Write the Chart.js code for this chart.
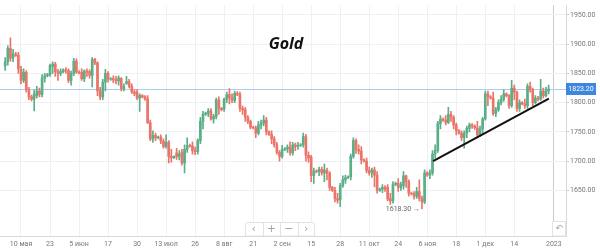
<!DOCTYPE html>
<html><head><meta charset="utf-8">
<script src="https://cdn.jsdelivr.net/npm/chart.js@4"></script>
<style>html,body{margin:0;padding:0;background:#fff;}#wrap{width:600px;height:252px;position:relative;}</style>
</head><body><div id="wrap"><canvas id="c" width="600" height="252"></canvas></div>
<script>
const opens=[1863,1870,1893,1876,1883,1881,1857,1838,1852,1822,
1810,1806,1812,1820,1814,1842,1846,1848,1862,1866,
1853,1850,1853,1856,1855,1838,1850,1871,1852,1852,
1841,1854,1853,1846,1874,1868,1820,1810,1835,1850,
1840,1841,1839,1837,1841,1824,1833,1836,1828,1818,
1818,1808,1812,1810,1807,1766,1738,1744,1740,1741,
1734,1725,1732,1708,1706,1714,1708,1715,1697,1720,
1727,1726,1718,1716,1735,1768,1780,1782,1786,1772,
1776,1805,1790,1789,1806,1814,1808,1804,1816,1814,
1790,1788,1775,1768,1758,1757,1748,1762,1765,1770,
1750,1746,1738,1728,1715,1708,1720,1721,1724,1714,
1728,1725,1727,1728,1742,1710,1707,1675,1683,1682,
1686,1680,1684,1679,1655,1650,1636,1634,1658,1668,
1672,1673,1708,1735,1720,1717,1702,1700,1684,1680,
1685,1676,1650,1652,1655,1655,1636,1632,1660,1662,
1655,1658,1675,1665,1645,1644,1640,1648,1636,1630,
1680,1676,1680,1712,1718,1764,1772,1770,1766,1780,
1775,1762,1752,1748,1740,1748,1756,1762,1760,1757,
1745,1755,1772,1815,1810,1808,1781,1788,1800,1806,
1815,1812,1795,1825,1818,1790,1800,1798,1795,1828,
1822,1800,1808,1806,1820,1812,1820];
const highs=[1877,1897,1911,1891,1886,1886,1862,1858,1855,1826,
1813,1822,1828,1825,1848,1850,1850,1866,1870,1869,
1857,1858,1858,1860,1858,1854,1876,1875,1855,1858,
1856,1858,1856,1877,1876,1870,1826,1840,1857,1853,
1843,1846,1845,1846,1843,1832,1845,1840,1832,1822,
1822,1815,1814,1812,1812,1770,1752,1748,1743,1745,
1738,1745,1735,1720,1709,1722,1718,1720,1728,1740,
1729,1733,1724,1738,1775,1785,1784,1790,1790,1780,
1808,1810,1792,1808,1818,1824,1815,1820,1819,1818,
1794,1792,1778,1770,1760,1760,1768,1770,1778,1775,
1752,1752,1742,1732,1718,1727,1723,1728,1733,1732,
1731,1732,1730,1748,1746,1716,1710,1688,1685,1690,
1690,1695,1688,1682,1657,1655,1645,1662,1675,1676,
1675,1712,1740,1738,1728,1725,1704,1705,1690,1688,
1690,1682,1654,1660,1658,1660,1645,1665,1664,1670,
1664,1682,1676,1668,1647,1648,1655,1668,1640,1685,
1682,1685,1718,1728,1768,1778,1774,1778,1792,1785,
1778,1765,1754,1752,1752,1760,1765,1764,1762,1768,
1760,1775,1820,1820,1812,1818,1792,1805,1812,1822,
1817,1814,1838,1830,1820,1805,1802,1806,1832,1835,
1825,1812,1811,1840,1825,1826,1830];
const lows=[1855,1864,1871,1870,1879,1850,1832,1834,1818,1805,
1803,1786,1808,1810,1810,1835,1844,1845,1850,1845,
1838,1846,1851,1850,1834,1830,1846,1850,1849,1838,
1836,1845,1842,1827,1865,1812,1805,1805,1820,1835,
1838,1834,1832,1830,1820,1820,1831,1825,1816,1812,
1805,1785,1808,1804,1764,1735,1732,1735,1738,1730,
1722,1722,1697,1698,1704,1703,1702,1693,1680,1715,
1724,1712,1711,1712,1730,1755,1778,1776,1770,1765,
1772,1780,1786,1785,1800,1798,1800,1800,1812,1785,
1780,1768,1764,1755,1755,1740,1745,1755,1760,1745,
1744,1730,1724,1712,1700,1705,1718,1715,1710,1710,
1718,1720,1725,1724,1700,1698,1665,1662,1680,1675,
1676,1665,1668,1650,1648,1630,1628,1622,1655,1662,
1670,1668,1705,1713,1712,1695,1698,1680,1676,1672,
1656,1645,1648,1646,1648,1632,1626,1628,1658,1648,
1650,1652,1655,1640,1642,1635,1636,1632,1618.3,1627,
1674,1670,1676,1705,1715,1755,1768,1762,1764,1768,
1755,1745,1746,1735,1722,1740,1750,1756,1754,1742,
1742,1748,1770,1795,1806,1778,1776,1785,1796,1802,
1810,1790,1792,1805,1785,1785,1796,1790,1790,1818,
1795,1798,1803,1804,1808,1810,1815];
const closes=[1870,1893,1876,1883,1881,1858,1838,1852,1822,1810,
1806,1815,1820,1814,1842,1846,1848,1864,1866,1853,
1850,1853,1856,1855,1838,1850,1871,1852,1851,1841,
1854,1852,1847,1874,1868,1820,1810,1835,1850,1840,
1841,1839,1837,1842,1824,1828,1836,1828,1818,1815,
1808,1812,1810,1807,1766,1738,1744,1740,1741,1734,
1725,1732,1708,1706,1708,1708,1712,1697,1720,1727,
1726,1718,1716,1735,1768,1780,1782,1786,1772,1776,
1805,1790,1788,1806,1814,1808,1804,1816,1814,1790,
1788,1775,1768,1758,1757,1748,1762,1765,1770,1750,
1746,1738,1728,1715,1708,1720,1721,1724,1714,1728,
1725,1727,1728,1742,1710,1705,1675,1683,1682,1686,
1680,1685,1679,1655,1650,1636,1633,1658,1668,1672,
1673,1708,1735,1720,1717,1702,1700,1684,1680,1685,
1676,1650,1652,1655,1652,1635,1632,1660,1662,1655,
1660,1675,1665,1645,1644,1640,1648,1636,1630,1680,
1676,1680,1712,1718,1764,1772,1770,1766,1780,1775,
1762,1752,1748,1740,1748,1756,1762,1760,1757,1745,
1755,1772,1815,1810,1808,1781,1788,1800,1806,1815,
1812,1795,1825,1818,1790,1800,1798,1795,1828,1822,
1800,1808,1806,1820,1812,1820,1823.2];
const xTickIndex=[6,17,28,39,50,61,72,83,94,105,116,127,138,149,160,171,182,193,208];
const xTickLabels=['10 мая','23','5 июн','17','30','13 июл','26','8 авг','21','2 сен','15','28','11 окт','24','6 ноя','18','1 дек','14','2023'];
const yTicks=[1650,1700,1750,1800,1850,1900,1950];
const trendLine=[{x:162.2,y:1700},{x:206.1,y:1807}];
const chartTitle='Gold';

const UP='#5aae88', DOWN='#eb7468';
const idx=closes.map((_,i)=>i);
const colors=idx.map(i=>closes[i]>=opens[i]?UP:DOWN);
const lastClose=closes[closes.length-1];
let minI=0; lows.forEach((v,i)=>{if(v<lows[minI])minI=i;});

const overlay={id:'overlay',
 beforeDatasetsDraw(chart){
  const {ctx,chartArea:a,scales:{y}}=chart;
  const py=Math.round(y.getPixelForValue(lastClose))+0.5;
  ctx.save();ctx.strokeStyle='#a9cdf2';ctx.lineWidth=1;
  ctx.beginPath();ctx.moveTo(a.left,py);ctx.lineTo(a.right,py);ctx.stroke();ctx.restore();
 },
 afterDraw(chart){
  const {ctx,chartArea:a,scales:{x,y}}=chart;
  ctx.save();
  // price box
  const py=y.getPixelForValue(lastClose);
  ctx.fillStyle='#3f87dc';
  ctx.fillRect(a.right,Math.round(py)-6,30,12);
  ctx.fillStyle='#fff';ctx.font='7px Roboto';ctx.textAlign='center';ctx.textBaseline='middle';
  ctx.fillText(lastClose.toFixed(2),a.right+15,py+0.5);
  // title
  ctx.fillStyle='#111';ctx.font='italic bold 16px "Open Sans"';ctx.textAlign='center';ctx.textBaseline='middle';
  ctx.fillText(chartTitle,286,44);
  // min label
  const mx=x.getPixelForValue(minI), my=y.getPixelForValue(lows[minI]);
  ctx.fillStyle='#666';ctx.font='7px Roboto';ctx.textAlign='right';ctx.textBaseline='middle';
  ctx.fillText(lows[minI].toFixed(2)+' \u2192',mx-2,my+0.5);
  // nav box
  const bx=245,bw=70,by=222,bh=a.bottom-222;
  ctx.fillStyle='#fff';ctx.strokeStyle='#dfe2e6';ctx.lineWidth=1;
  ctx.beginPath();ctx.moveTo(bx+0.5,a.bottom);ctx.lineTo(bx+0.5,by+3);ctx.quadraticCurveTo(bx+0.5,by+0.5,bx+3,by+0.5);
  ctx.lineTo(bx+bw-3,by+0.5);ctx.quadraticCurveTo(bx+bw-0.5,by+0.5,bx+bw-0.5,by+3);ctx.lineTo(bx+bw-0.5,a.bottom);ctx.closePath();
  ctx.fill();ctx.stroke();
  const glyphs=['\u2039','+','\u2212','\u203A'];
  ctx.fillStyle='#a0a4a8';ctx.font='11px "DejaVu Sans"';ctx.textAlign='center';ctx.textBaseline='middle';
  for(let k=0;k<4;k++){
   const cx=bx+bw/8+k*bw/4;
   ctx.fillText(glyphs[k],cx,by+bh/2);
   if(k>0){ctx.beginPath();ctx.moveTo(Math.round(bx+k*bw/4)+0.5,by+1);ctx.lineTo(Math.round(bx+k*bw/4)+0.5,a.bottom);ctx.stroke();}
  }
  // reset box
  ctx.fillStyle='#fff';ctx.beginPath();ctx.rect(552.5,221.5,13,a.bottom-221.5);ctx.fill();ctx.stroke();
  ctx.fillStyle='#a0a4a8';ctx.font='9px "DejaVu Sans"';ctx.fillText('\u21B6',559,229);
  ctx.restore();
 }
};

new Chart(document.getElementById('c'),{
 type:'bar',
 data:{datasets:[
  {type:'line',data:trendLine,borderColor:'#111',borderWidth:2,pointRadius:0,order:1,xAxisID:'x',yAxisID:'y'},
  {data:idx.map(i=>({x:i,y:[opens[i],closes[i]]})),backgroundColor:colors,barThickness:2,grouped:false,borderWidth:0,order:2},
  {data:idx.map(i=>({x:i,y:[lows[i],highs[i]]})),backgroundColor:colors,barThickness:1,grouped:false,borderWidth:0,order:3}
 ]},
 options:{responsive:false,animation:false,events:[],layout:{padding:0},
  plugins:{legend:{display:false},tooltip:{enabled:false},title:{display:false}},
  scales:{
   x:{type:'linear',position:'bottom',min:-1.96,max:212.6,offset:false,
    grid:{offset:false,drawTicks:false,color:c=>(c.tick&&c.tick.value===208)?'#c9cdd3':'#eef0f3'},
    border:{color:'#d5d8dd'},
    ticks:{autoSkip:false,maxRotation:0,padding:4,color:'#777',font:{family:'Roboto',size:7},
     callback:v=>{const k=xTickIndex.indexOf(v);return k>=0?xTickLabels[k]:'';}},
    afterBuildTicks:s=>{s.ticks=xTickIndex.map(v=>({value:v}));},
    afterFit:s=>{s.height=16;}},
   y:{position:'right',min:1571.9,max:1966.7,
    grid:{color:'#eef0f3',tickLength:3,tickColor:'#c8ccd2'},
    border:{color:'#d5d8dd'},
    ticks:{padding:1,color:'#777',font:{family:'Roboto',size:7},callback:v=>v.toFixed(2)},
    afterBuildTicks:s=>{s.ticks=yTicks.map(v=>({value:v}));},
    afterFit:s=>{s.width=34;}}
  }
 },
 plugins:[overlay]
});
</script></body></html>
